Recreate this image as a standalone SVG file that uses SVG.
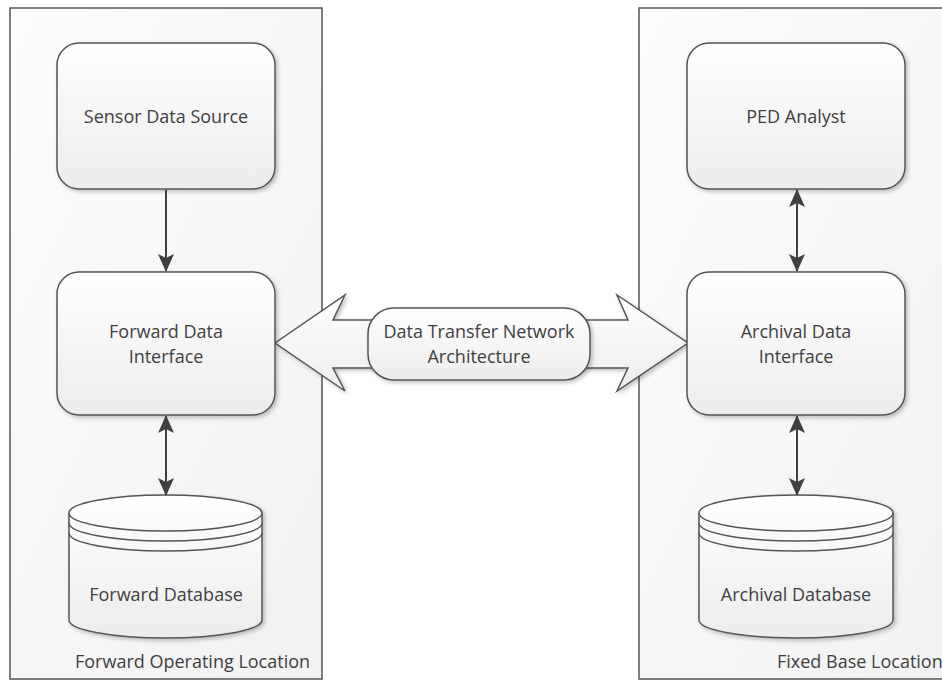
<svg xmlns="http://www.w3.org/2000/svg" width="942" height="681" viewBox="0 0 942 681">
  <defs>
    <linearGradient id="boxFill" x1="0" y1="0" x2="0" y2="1">
      <stop offset="0" stop-color="#ffffff"/>
      <stop offset="1" stop-color="#ececec"/>
    </linearGradient>
    <linearGradient id="zoneFill" x1="0" y1="0" x2="1" y2="1">
      <stop offset="0" stop-color="#fdfdfd"/>
      <stop offset="1" stop-color="#f1f1f1"/>
    </linearGradient>
    <filter id="shadow" x="-10%" y="-10%" width="125%" height="125%">
      <feGaussianBlur in="SourceAlpha" stdDeviation="2"/>
      <feOffset dx="2" dy="2" result="b"/>
      <feComponentTransfer><feFuncA type="linear" slope="0.25"/></feComponentTransfer>
      <feMerge><feMergeNode/><feMergeNode in="SourceGraphic"/></feMerge>
    </filter>
    <marker id="head" viewBox="0 0 18 16" refX="17" refY="8" markerWidth="18" markerHeight="16" markerUnits="userSpaceOnUse" orient="auto-start-reverse">
      <path d="M0,0 L18,8 L0,16 L4,8 Z" fill="#404040"/>
    </marker>
  </defs>
  <style>
    .zone { fill: url(#zoneFill); stroke: #555555; stroke-width: 1.5; }
    .box { fill: url(#boxFill); stroke: #555555; stroke-width: 1.5; filter: url(#shadow); }
    .line { fill: none; stroke: #555555; stroke-width: 1.5; }
    .conn { fill: none; stroke: #404040; stroke-width: 2; }
    .lbl { font-family: "Open Sans", "Liberation Sans", sans-serif; font-size: 18px; fill: #404040; text-anchor: middle; }
    .zlbl { font-family: "Open Sans", "Liberation Sans", sans-serif; font-size: 18px; fill: #404040; }
  </style>

  <rect width="942" height="681" fill="#ffffff"/>

  <!-- location zones -->
  <g id="forward-location">
    <rect class="zone" x="10" y="8" width="312" height="671"/>
    <text class="zlbl" x="75" y="668">Forward Operating Location</text>
  </g>
  <g id="fixed-base-location">
    <rect class="zone" x="639" y="8" width="330" height="671"/>
    <text class="zlbl" x="777" y="668">Fixed Base Location</text>
  </g>

  <!-- transfer link between the two interfaces -->
  <g id="data-transfer-network">
    <polygon class="box" points="275,343 345,295 333,320 628,320 617,295 688,343 617,391 628,368 333,368 345,391"/>
    <rect class="box" x="368" y="308" width="222" height="72" rx="26"/>
    <text class="lbl" x="479" y="338">Data Transfer Network</text>
    <text class="lbl" x="479" y="363">Architecture</text>
  </g>

  <g id="sensor-data-source">
    <rect class="box" x="57" y="43" width="218" height="146" rx="22"/>
    <text class="lbl" x="166" y="123">Sensor Data Source</text>
  </g>
  <g id="forward-data-interface">
    <rect class="box" x="57" y="272" width="218" height="143" rx="22"/>
    <text class="lbl" x="166" y="338">Forward Data</text>
    <text class="lbl" x="166" y="363">Interface</text>
  </g>
  <g id="forward-database">
    <path class="box" d="M69,513 L69,620 A96.5,18 0 0 0 262,620 L262,513 A96.5,18 0 0 0 69,513 Z"/>
    <path class="line" d="M69,513 A96.5,18 0 0 0 262,513"/>
    <path class="line" d="M69,523 A96.5,18 0 0 0 262,523"/>
    <path class="line" d="M69,533 A96.5,18 0 0 0 262,533"/>
    <text class="lbl" x="166" y="601">Forward Database</text>
  </g>

  <g id="ped-analyst">
    <rect class="box" x="687" y="43" width="218" height="146" rx="22"/>
    <text class="lbl" x="796" y="123">PED Analyst</text>
  </g>
  <g id="archival-data-interface">
    <rect class="box" x="687" y="272" width="218" height="143" rx="22"/>
    <text class="lbl" x="796" y="338">Archival Data</text>
    <text class="lbl" x="796" y="363">Interface</text>
  </g>
  <g id="archival-database">
    <path class="box" d="M699,513 L699,620 A97,18 0 0 0 893,620 L893,513 A97,18 0 0 0 699,513 Z"/>
    <path class="line" d="M699,513 A97,18 0 0 0 893,513"/>
    <path class="line" d="M699,523 A97,18 0 0 0 893,523"/>
    <path class="line" d="M699,533 A97,18 0 0 0 893,533"/>
    <text class="lbl" x="796" y="601">Archival Database</text>
  </g>

  <!-- connectors -->
  <g id="connectors">
    <line class="conn" x1="166" y1="190" x2="166" y2="271" marker-end="url(#head)"/>
    <line class="conn" x1="166" y1="416" x2="166" y2="495" marker-start="url(#head)" marker-end="url(#head)"/>
    <line class="conn" x1="797" y1="190" x2="797" y2="271" marker-start="url(#head)" marker-end="url(#head)"/>
    <line class="conn" x1="797" y1="416" x2="797" y2="495" marker-start="url(#head)" marker-end="url(#head)"/>
  </g>
</svg>
